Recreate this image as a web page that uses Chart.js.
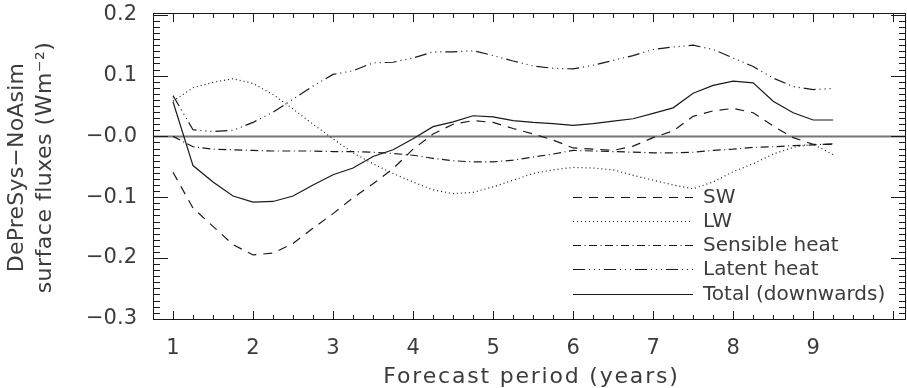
<!DOCTYPE html>
<html>
<head>
<meta charset="utf-8">
<script src="https://cdn.jsdelivr.net/npm/chart.js@4.4.0/dist/chart.umd.min.js"></script>
<style>
  html, body { margin: 0; padding: 0; background: #fff; }
  #wrap { width: 907px; height: 388px; }
</style>
</head>
<body>
<div id="wrap"><canvas id="fluxes" width="907" height="388"></canvas></div>
<script>
// forecast period (years)
const years = [1, 1.25, 1.5, 1.75, 2, 2.25, 2.5, 2.75, 3, 3.25, 3.5, 3.75, 4, 4.25, 4.5, 4.75, 5,
  5.25, 5.5, 5.75, 6, 6.25, 6.5, 6.75, 7, 7.25, 7.5, 7.75, 8, 8.25, 8.5, 8.75, 9, 9.25];

const sw = [-0.059, -0.118, -0.148, -0.178, -0.195, -0.192, -0.176, -0.151, -0.127, -0.101,
  -0.078, -0.053, -0.021, 0.004, 0.020, 0.026, 0.023, 0.013, 0.004, -0.006, -0.019, -0.021,
  -0.023, -0.016, -0.002, 0.009, 0.033, 0.042, 0.046, 0.039, 0.017, -0.002, -0.013, -0.013];
const lw = [0.058, 0.080, 0.089, 0.095, 0.087, 0.069, 0.045, 0.020, -0.004, -0.027, -0.045,
  -0.061, -0.075, -0.088, -0.094, -0.092, -0.083, -0.072, -0.061, -0.055, -0.051, -0.052,
  -0.055, -0.064, -0.072, -0.080, -0.086, -0.075, -0.058, -0.045, -0.029, -0.018, -0.013, -0.030];
const sensible = [0.000, -0.017, -0.021, -0.022, -0.023, -0.024, -0.024, -0.024, -0.025, -0.025,
  -0.026, -0.028, -0.031, -0.036, -0.040, -0.042, -0.042, -0.039, -0.034, -0.029, -0.023, -0.024,
  -0.025, -0.026, -0.027, -0.027, -0.026, -0.023, -0.021, -0.018, -0.017, -0.015, -0.014, -0.012];
const latent = [0.067, 0.011, 0.008, 0.010, 0.023, 0.040, 0.061, 0.083, 0.102, 0.108, 0.121,
  0.122, 0.129, 0.139, 0.139, 0.141, 0.133, 0.124, 0.116, 0.112, 0.111, 0.117, 0.125, 0.133,
  0.143, 0.147, 0.150, 0.143, 0.129, 0.115, 0.096, 0.082, 0.077, 0.079];
const total = [0.057, -0.048, -0.075, -0.098, -0.108, -0.107, -0.098, -0.080, -0.063, -0.052,
  -0.033, -0.022, -0.004, 0.016, 0.024, 0.034, 0.032, 0.026, 0.023, 0.021, 0.018, 0.021, 0.025,
  0.029, 0.038, 0.047, 0.071, 0.084, 0.091, 0.088, 0.058, 0.039, 0.027, 0.027];

const seriesNames = ["SW", "LW", "Sensible heat", "Latent heat", "Total (downwards)"];
const xTicks = [1, 2, 3, 4, 5, 6, 7, 8, 9];
const yTicks = [-0.3, -0.2, -0.1, 0.0, 0.1, 0.2];
const xTitle = "Forecast period (years)";
const yTitle = ["DePreSys\u2212NoAsim", "surface fluxes (Wm\u207B\u00B2)"];

const ink = "#1a1a1a";
const textInk = "#3c3c3c";
const family = "'DejaVu Sans', sans-serif";
const tickFont = { family: family, size: 21, weight: "normal" };

function pts(vals) {
  return vals.map((v, i) => ({ x: years[i], y: v }));
}

const dashes = [[9, 7], [1, 3], [8, 3.5, 1, 3.5], [12, 4, 1, 4, 1, 4, 1, 4], []];
const allSeries = [sw, lw, sensible, latent, total];

const datasets = allSeries.map((vals, i) => ({
  label: seriesNames[i],
  data: pts(vals),
  borderColor: ink,
  borderWidth: 1.2,
  borderDash: dashes[i],
  pointRadius: 0,
  tension: 0,
  fill: false
}));

// frame, inward tick marks, zero line, axis titles and legend, drawn like the IDL original
const framePlugin = {
  id: "frame",
  beforeDatasetsDraw(chart) {
    const { ctx, chartArea: a, scales: { y } } = chart;
    const y0 = y.getPixelForValue(0);
    ctx.save();
    ctx.strokeStyle = "#777";
    ctx.lineWidth = 2;
    ctx.beginPath();
    ctx.moveTo(a.left, y0);
    ctx.lineTo(a.right, y0);
    ctx.stroke();
    ctx.restore();
  },
  afterDraw(chart) {
    const { ctx, chartArea: a, scales: { x, y } } = chart;
    ctx.save();
    ctx.strokeStyle = ink;
    ctx.lineWidth = 1;
    ctx.strokeRect(a.left + 0.5, a.top + 0.5, a.right - a.left - 1, a.bottom - a.top - 1);

    ctx.beginPath();
    // x ticks every 0.25, long at whole years
    for (let k = Math.ceil(x.min * 4); k <= Math.floor(x.max * 4); k++) {
      const px = Math.round(x.getPixelForValue(k / 4)) + 0.5;
      const len = k % 4 === 0 ? 9 : 5;
      ctx.moveTo(px, a.bottom);
      ctx.lineTo(px, a.bottom - len);
      ctx.moveTo(px, a.top);
      ctx.lineTo(px, a.top + len);
    }
    // y ticks every 0.01, long at every 0.1
    for (let k = Math.ceil(y.min * 100); k <= Math.floor(y.max * 100); k++) {
      const py = Math.round(y.getPixelForValue(k / 100)) + 0.5;
      const len = k % 10 === 0 ? 15 : 7;
      ctx.moveTo(a.left, py);
      ctx.lineTo(a.left + len, py);
      ctx.moveTo(a.right, py);
      ctx.lineTo(a.right - len, py);
    }
    ctx.stroke();

    // axis titles
    ctx.fillStyle = textInk;
    ctx.textAlign = "center";
    ctx.textBaseline = "middle";
    ctx.font = "22px " + family;
    ctx.letterSpacing = "1.8px";
    ctx.fillText(xTitle, (a.left + a.right) / 2 + 2, 377);
    ctx.save();
    ctx.translate(0, (a.top + a.bottom) / 2 + 1);
    ctx.rotate(-Math.PI / 2);
    ctx.letterSpacing = "0.2px";
    ctx.fillText(yTitle[0], 0, 17);
    ctx.letterSpacing = "0.5px";
    ctx.fillText(yTitle[1], 0, 45);
    ctx.restore();
    ctx.letterSpacing = "0px";

    // legend
    const lx0 = 573, lx1 = 693, tx = 703, ly = [197, 221, 245, 269, 294];
    chart.data.datasets.forEach((ds, i) => {
      ctx.strokeStyle = ink;
      ctx.lineWidth = 1.2;
      ctx.setLineDash(ds.borderDash);
      ctx.beginPath();
      ctx.moveTo(lx0, ly[i] + 0.5);
      ctx.lineTo(lx1, ly[i] + 0.5);
      ctx.stroke();
      ctx.setLineDash([]);
      ctx.fillStyle = textInk;
      ctx.font = "20px " + family;
      ctx.textBaseline = "middle";
      ctx.textAlign = "left";
      ctx.fillText(ds.label, tx, ly[i] + 1);
    });
    ctx.restore();
  }
};

const ctx = document.getElementById("fluxes").getContext("2d");

const myChart = new Chart(ctx, {
  type: "line",
  data: { datasets: datasets },
  options: {
    responsive: false,
    animation: false,
    layout: { padding: { top: 13, right: 1, left: 0, bottom: 0 } },
    plugins: { legend: { display: false }, tooltip: { enabled: false } },
    scales: {
      x: {
        type: "linear",
        min: 0.75,
        max: 10.16,
        afterBuildTicks: s => { s.ticks = xTicks.map(v => ({ value: v })); },
        afterFit: s => { s.height = 68; s.paddingLeft = 0; s.paddingRight = 0; },
        grid: { display: false },
        border: { display: false },
        ticks: { font: tickFont, color: textInk, padding: 8, maxRotation: 0, autoSkip: false,
          callback: v => String(v) },
        title: { display: false }
      },
      y: {
        type: "linear",
        min: -0.302,
        max: 0.203,
        afterBuildTicks: s => { s.ticks = yTicks.map(v => ({ value: v })); },
        afterFit: s => { s.width = 153; s.paddingTop = 0; s.paddingBottom = 0; },
        grid: { display: false },
        border: { display: false },
        ticks: { font: tickFont, color: textInk, padding: 8,
          callback: v => (v <= 0.0001 ? "\u2212" : "") + Math.abs(v).toFixed(1) },
        title: { display: false }
      }
    }
  },
  plugins: [framePlugin]
});
</script>
</body>
</html>
